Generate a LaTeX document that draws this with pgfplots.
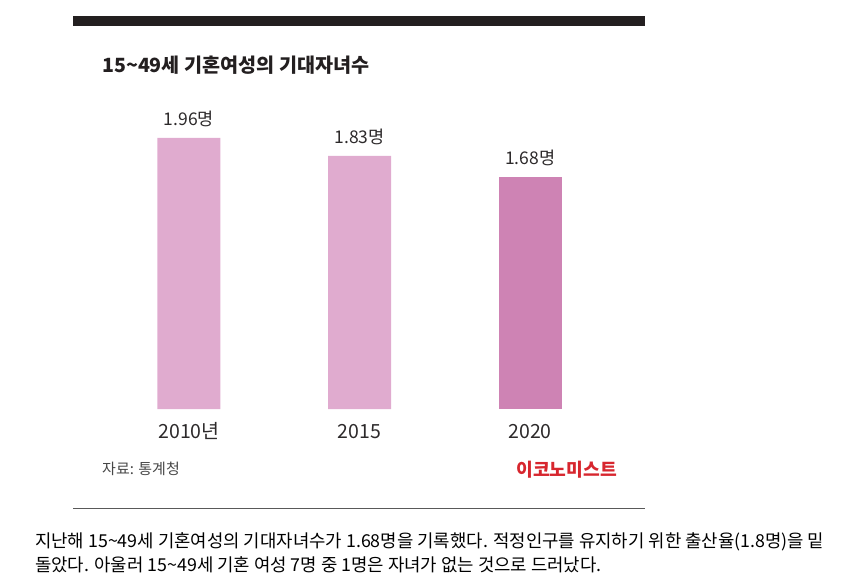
\documentclass[border=0pt]{standalone}
\usepackage{fontspec}
\setmainfont{Noto Sans CJK KR}
\usepackage{pgfplots}
\pgfplotsset{compat=1.18}
\definecolor{barlight}{RGB}{224,171,207}
\definecolor{bardark}{RGB}{206,131,180}
\definecolor{topbar}{RGB}{35,31,32}
\definecolor{logored}{RGB}{215,38,46}
\definecolor{txtdark}{RGB}{45,42,43}
\begin{document}
\begin{tikzpicture}[x=1pt,y=1pt]
\path[use as bounding box] (0,0) rectangle (850,584);
\fill[topbar] (73,558) rectangle (645,568);
\node[anchor=base west, inner sep=0pt, text=topbar, font=\fontsize{19.6}{24}\selectfont\bfseries] at (102,511) {15\textasciitilde49세 기혼여성의 기대자녀수};
\begin{axis}[
  at={(73pt,175pt)}, anchor=south west,
  scale only axis, width=572pt, height=304.26pt,
  xmin=-0.680, xmax=2.674, ymin=0, ymax=2.2,
  axis lines=none,
  ybar, bar width=63pt,
  xtick={0,1,2}, xticklabels={2010년,2015,2020},
  ytick=\empty, major tick length=0pt,
  clip=false,
  point meta=explicit symbolic,
  nodes near coords={\pgfplotspointmeta 명},
  every node near coord/.append style={anchor=base, yshift=12pt, inner sep=0pt, text=txtdark, font=\fontsize{17.5}{20}\selectfont},
]
\addplot[fill=barlight, draw=none, bar shift=0pt] table[meta=label] {
x y label
0 1.96 1.96
1 1.83 1.83
};
\addplot[fill=bardark, draw=none, bar shift=0pt] table[meta=label] {
x y label
2 1.68 1.68
};
\end{axis}
% x labels
\node[anchor=base, inner sep=0pt, text=txtdark, font=\fontsize{19.5}{22}\selectfont] at (189,146) {2010년};
\node[anchor=base, inner sep=0pt, text=txtdark, font=\fontsize{19.5}{22}\selectfont] at (359.5,146) {2015};
\node[anchor=base, inner sep=0pt, text=txtdark, font=\fontsize{19.5}{22}\selectfont] at (530,146) {2020};
\node[anchor=base west, inner sep=0pt, text=black!72, font=\fontsize{15}{18}\selectfont] at (102,110) {자료: 통계청};
\node[anchor=base east, inner sep=0pt, text=logored, font=\fontsize{18.2}{20}\selectfont\bfseries] at (617,108) {이코노미스트};
\draw[black!65, line width=1pt] (73,76) -- (645,76);
\node[anchor=base west, inner sep=0pt, font=\fontsize{17.8}{20}\selectfont] at (35,37) {지난해 15\textasciitilde49세 기혼여성의 기대자녀수가 1.68명을 기록했다. 적정인구를 유지하기 위한 출산율(1.8명)을 밑};
\node[anchor=base west, inner sep=0pt, font=\fontsize{17.8}{20}\selectfont] at (35,13) {돌았다. 아울러 15\textasciitilde49세 기혼 여성 7명 중 1명은 자녀가 없는 것으로 드러났다.};
\end{tikzpicture}
\end{document}
